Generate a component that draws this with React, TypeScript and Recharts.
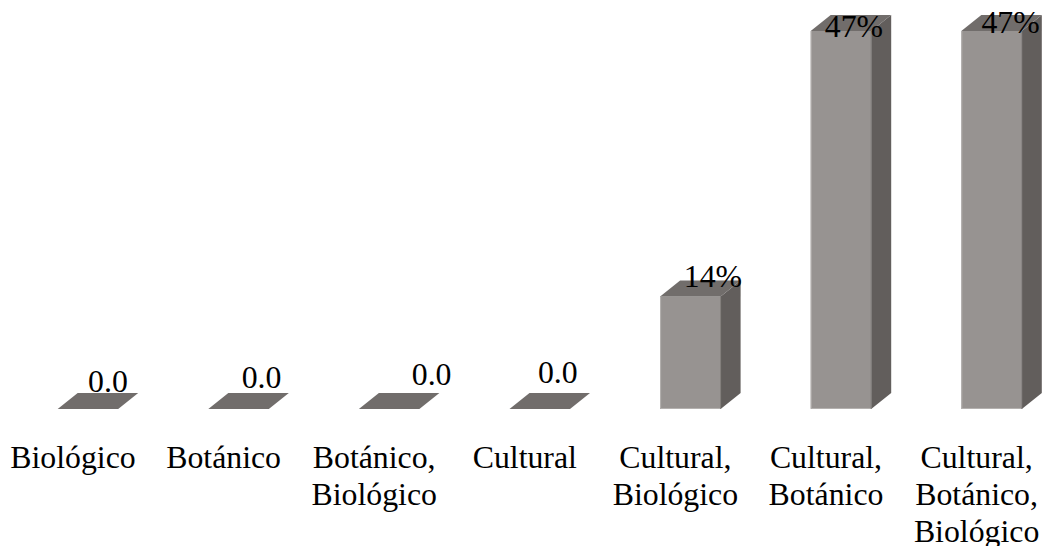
import React from "react";
import { BarChart, Bar, XAxis, YAxis, LabelList } from "recharts";

const categories = [
  "Biológico",
  "Botánico",
  "Botánico, Biológico",
  "Cultural",
  "Cultural, Biológico",
  "Cultural, Botánico",
  "Cultural, Botánico, Biológico",
];
const shares = [0, 0, 0, 0, 14, 47, 47];
const shareLabels = ["0.0", "0.0", "0.0", "0.0", "14%", "47%", "47%"];

const chartData = categories.map((name, i) => ({ name, share: shares[i], label: shareLabels[i] }));

const FONT = "'Liberation Serif', 'Times New Roman', serif";
const FONT_SIZE = 31.8;
const DEPTH_X = 20;
const DEPTH_Y = 16;
// hand placement of the value labels in the original, relative to each bar's centre and top
const LABEL_SHIFT_X = [20, 23, 42.5, 18, 22.6, 13, 19];
const LABEL_SHIFT_Y = [-17, -21, -24, -26, -9, 6, 2];

function Box3D(props: any) {
  const { x, y, width, height } = props;
  const r = x + width;
  const b = y + height;
  const pts = (p: number[][]) => p.map((q) => q.join(",")).join(" ");
  return (
    <g>
      {height > 0 && (
        <>
          <polygon
            points={pts([[r, y], [r + DEPTH_X, y - DEPTH_Y], [r + DEPTH_X, b - DEPTH_Y], [r, b]])}
            fill="#625e5c"
          />
          <rect x={x} y={y} width={width} height={height} fill="#979391" />
          <path
            d={`M${x + 0.5} ${y} V${b - 0.5} H${r}`}
            fill="none"
            stroke="#b4b1af"
            strokeWidth={1}
          />
          <line x1={r} y1={y} x2={r} y2={b} stroke="#7f7b79" strokeWidth={1} />
        </>
      )}
      <polygon
        points={pts([[x, y], [x + DEPTH_X, y - DEPTH_Y], [r + DEPTH_X, y - DEPTH_Y], [r, y]])}
        fill="#716d6b"
      />
    </g>
  );
}

function CategoryTick(props: any) {
  const { x, payload } = props;
  const lines = String(payload.value).replace(/, /g, ",\n").split("\n");
  return (
    <text x={x - 15} y={468} textAnchor="middle" fontFamily={FONT} fontSize={FONT_SIZE} fill="#000">
      {lines.map((line: string, i: number) => (
        <tspan key={i} x={x - 15} y={468.3 + i * 36.7}>
          {line}
        </tspan>
      ))}
    </text>
  );
}

function ValueLabel(props: any) {
  const { x, y, width, index } = props;
  return (
    <text
      x={x + width / 2 + LABEL_SHIFT_X[index]}
      y={y + LABEL_SHIFT_Y[index]}
      textAnchor="middle"
      fontFamily={FONT}
      fontSize={FONT_SIZE}
      fill="#000"
    >
      {shareLabels[index]}
    </text>
  );
}

export default function App() {
  return (
    <div
      style={{
        position: "absolute",
        left: 0,
        top: 0,
        width: 1042,
        height: 546,
        overflow: "hidden",
        background: "#fff",
      }}
    >
      <BarChart
        width={1100}
        height={546}
        data={chartData}
        margin={{ top: 31, right: 33.1, bottom: 77, left: 12.7 }}
        barSize={60.5}
      >
        <XAxis
          dataKey="name"
          height={60}
          interval={0}
          axisLine={false}
          tickLine={false}
          tick={<CategoryTick />}
        />
        <YAxis hide domain={[0, 47]} />
        <Bar dataKey="share" isAnimationActive={false} shape={<Box3D />}>
          <LabelList dataKey="label" content={<ValueLabel />} />
        </Bar>
      </BarChart>
    </div>
  );
}
